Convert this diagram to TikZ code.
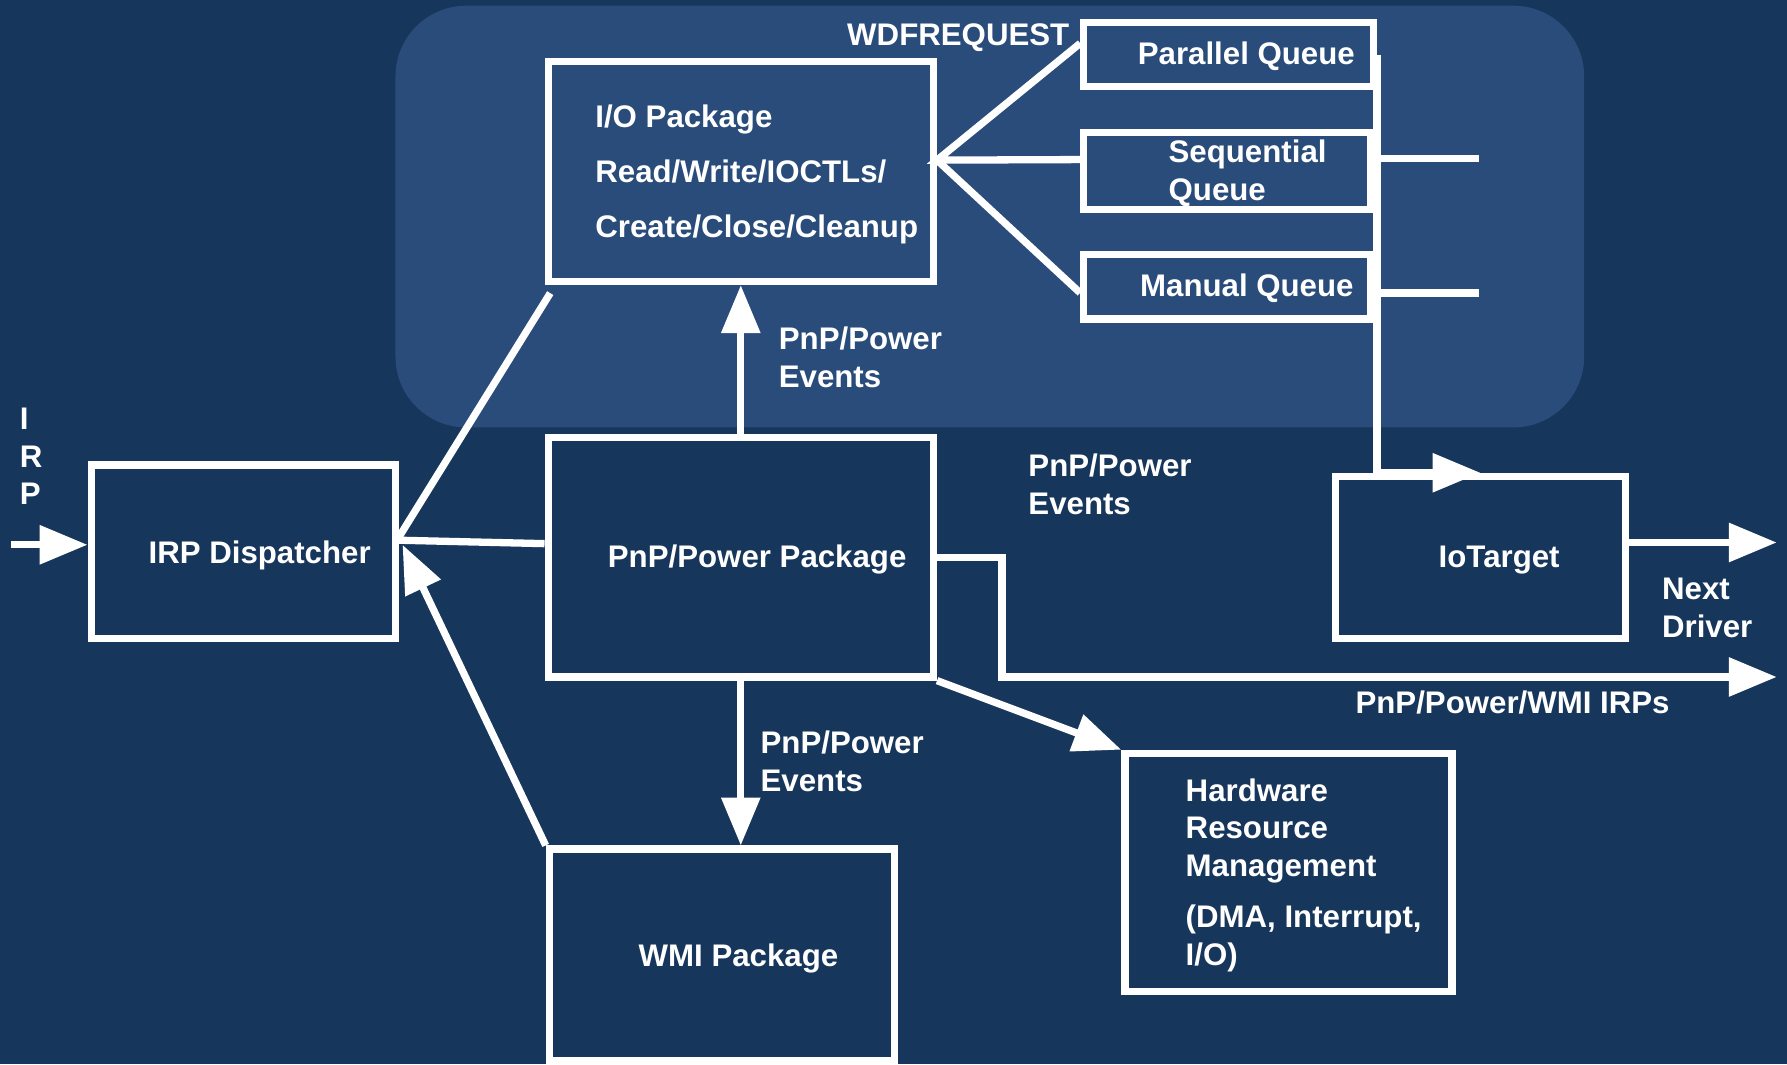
\documentclass[tikz,border=0pt]{standalone}
\usepackage{fontspec}
\setmainfont{Liberation Sans}
\usetikzlibrary{arrows.meta}
\definecolor{navybg}{RGB}{23,54,91}
\definecolor{panelblue}{RGB}{41,76,122}

\begin{document}
\begin{tikzpicture}[x=0.5pt, y=-0.5pt, block/.style={rectangle, draw=white, line width=3.2pt, inner sep=0pt}, txt/.style={text=white, font=\bfseries\fontsize{13.7pt}{16.5pt}\selectfont, inner sep=0pt, anchor=base west, align=left}, conn/.style={draw=white, line width=3.2pt}, arr/.style={-{Triangle[length=21pt, width=16.5pt]}}]

  \useasboundingbox (0,0) rectangle (1568,934);
  \fill[navybg] (0,0) rectangle (1568,934);
  \fill[panelblue, rounded corners=31pt] (347,5) rectangle (1390,375);

  \node[block, minimum width=169pt, minimum height=96.5pt] (io) at (650,150.5) {};
  \node[block, minimum width=127pt, minimum height=28pt] (par) at (1078,48) {};
  \node[block, minimum width=126pt, minimum height=34pt] (seq) at (1077,150) {};
  \node[block, minimum width=126pt, minimum height=28.5pt] (man) at (1077,251.5) {};
  \node[block, minimum width=169pt, minimum height=105pt] (pnp) at (650,489) {};
  \node[block, minimum width=133.5pt, minimum height=76pt] (disp) at (213.5,484) {};
  \node[block, minimum width=151.5pt, minimum height=93pt] (wmi) at (633.5,838) {};
  \node[block, minimum width=143.5pt, minimum height=104.5pt] (hw) at (1130.5,765.5) {};
  \node[block, minimum width=127pt, minimum height=71pt] (target) at (1299,489) {};

  \coordinate (irpin) at (10,478);
  \coordinate (fan) at ([shift={(0,-10)}]io.east);
  \coordinate (seqend) at (1298,139);
  \coordinate (manend) at (1298,257);
  \coordinate (nextdrv) at (1559,476);
  \coordinate (irpsout) at (1559,594);

  \draw[conn, arr] (irpin) -- (irpin -| disp.west);
  \draw[conn] ([shift={(0,-13)}]disp.east) -- ([shift={(5,7)}]io.south west);
  \draw[conn] ([shift={(0,-10)}]disp.east) -- ([shift={(0,-12)}]pnp.west);
  \draw[conn, arr] (pnp) -- (io);
  \draw[conn, arr] (pnp.south) -- (pnp.south |- wmi.north);
  \draw[conn, arr] (wmi.north west) -- ([shift={(3,-6)}]disp.east);
  \draw[conn] ([shift={(0,-10)}]par.west) -- (fan) -- ([shift={(0,-10)}]seq.west);
  \draw[conn] (fan) -- ([shift={(0,5.5)}]man.west);
  \draw[conn, arr] (par.east) |- (target.north);
  \draw[conn] (seqend -| par.east) -- (seqend);
  \draw[conn] (manend -| par.east) -- (manend);
  \draw[conn, arr] (nextdrv -| target.east) -- (nextdrv);
  \draw[conn, arr] (pnp.east) -- ++(57,0) |- (irpsout);
  \draw[conn, arr] (pnp.south east) -- (hw.north west);

  \node[txt] (wdf) at (743,39.5) {WDFREQUEST};
  \node[txt] (iotext) at (522,208) {I/O Package\\[7.5pt]Read/Write/IOCTLs/\\[7.5pt]Create/Close/Cleanup};
  \node[txt] (partext) at (998,57) {Parallel Queue};
  \node[txt] (seqtext) at (1025,175.5) {Sequential\\Queue};
  \node[txt] (mantext) at (1000,260) {Manual Queue};
  \node[txt] (evup) at (683,340) {PnP/Power\\Events};
  \node[txt] (pnptext) at (533,498) {PnP/Power Package};
  \node[txt] (disptext) at (130,494) {IRP Dispatcher};
  \node[txt] (irptext) at (17,443) {I\\R\\P};
  \node[txt] (evright) at (902,451) {PnP/Power\\Events};
  \node[txt] (evdown) at (667,694.5) {PnP/Power\\Events};
  \node[txt] (wmitext) at (560,848) {WMI Package};
  \node[txt] (targettext) at (1262,498) {IoTarget};
  \node[txt] (nexttext) at (1458,559) {Next\\Driver};
  \node[txt] (irpstext) at (1189,626) {PnP/Power/WMI IRPs};
  \node[txt] (hwtext) at (1040,847) {Hardware\\Resource\\Management\\[6pt](DMA, Interrupt,\\I/O)};
  \end{tikzpicture}
\end{document}
